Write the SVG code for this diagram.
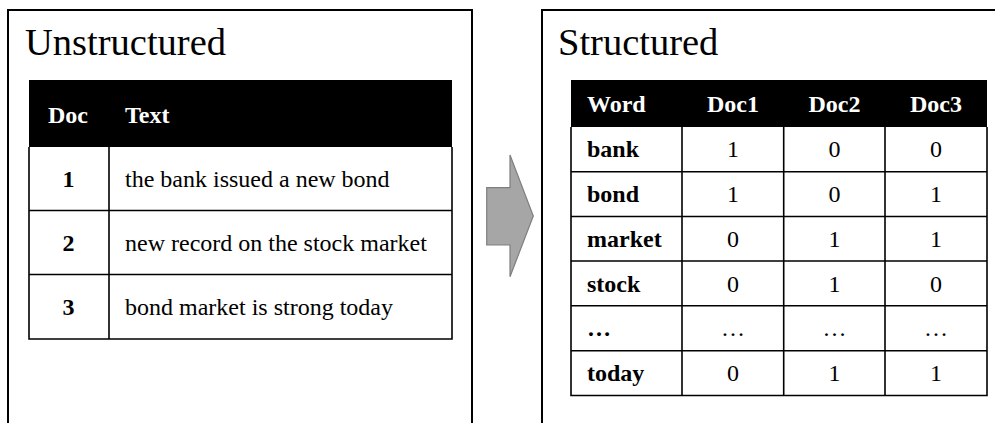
<svg xmlns="http://www.w3.org/2000/svg" width="995" height="423" viewBox="0 0 995 423">
<style>
.panel{fill:none;stroke:#000;stroke-width:2}
.title{font-family:"Liberation Serif",serif;font-size:38.5px;fill:#000}
.hd{fill:#000}
.grid{fill:none;stroke:#000;stroke-width:1.6}
.ht{font-family:"Liberation Serif",serif;font-size:24px;font-weight:bold;fill:#fff}
.b{font-family:"Liberation Serif",serif;font-size:24px;font-weight:bold;fill:#000}
.r{font-family:"Liberation Serif",serif;font-size:24px;fill:#000}
.c{text-anchor:middle}
.arrow{fill:#a6a6a6;stroke:#7f7f7f;stroke-width:1.2}
</style>
<g id="unstructured">
<path class="panel" d="M8,423 V10 H472 V423"/>
<text class="title" x="25" y="55">Unstructured</text>
<rect class="hd" x="29" y="80" width="423" height="67"/>
<text class="ht" x="48" y="123">Doc</text>
<text class="ht" x="125" y="123">Text</text>
<path class="grid" d="M29,147 V339 H452 V147 M29,210.5 H452 M29,274.5 H452 M109,147 V339"/>
<text class="b c" x="68.5" y="187">1</text>
<text class="r" x="125" y="187">the bank issued a new bond</text>
<text class="b c" x="68.5" y="251">2</text>
<text class="r" x="125" y="251">new record on the stock market</text>
<text class="b c" x="68.5" y="315">3</text>
<text class="r" x="125" y="315">bond market is strong today</text>
</g>
<g id="connectors">
<polygon class="arrow" points="486.7,187.7 510,187.7 510,155 533.3,216 510,276.7 510,245 486.7,245"/>
</g>
<g id="structured">
<path class="panel" d="M542,423 V10 H995"/>
<text class="title" x="558" y="55">Structured</text>
<rect class="hd" x="571" y="80" width="416" height="47"/>
<text class="ht" x="587" y="112">Word</text>
<text class="ht c" x="733" y="112">Doc1</text>
<text class="ht c" x="834.5" y="112">Doc2</text>
<text class="ht c" x="936" y="112">Doc3</text>
<path class="grid" d="M571,127 V395.5 H987 V127 M571,171.7 H987 M571,216.5 H987 M571,261 H987 M571,305.7 H987 M571,350.7 H987 M682,127 V395.5 M783.7,127 V395.5 M885,127 V395.5"/>
<text class="b" x="587" y="157">bank</text>
<text class="r c" x="733" y="157">1</text>
<text class="r c" x="834.5" y="157">0</text>
<text class="r c" x="936" y="157">0</text>
<text class="b" x="587" y="202">bond</text>
<text class="r c" x="733" y="202">1</text>
<text class="r c" x="834.5" y="202">0</text>
<text class="r c" x="936" y="202">1</text>
<text class="b" x="587" y="247">market</text>
<text class="r c" x="733" y="247">0</text>
<text class="r c" x="834.5" y="247">1</text>
<text class="r c" x="936" y="247">1</text>
<text class="b" x="587" y="291.5">stock</text>
<text class="r c" x="733" y="291.5">0</text>
<text class="r c" x="834.5" y="291.5">1</text>
<text class="r c" x="936" y="291.5">0</text>
<text class="b" x="587" y="336">…</text>
<text class="r c" x="733" y="336">…</text>
<text class="r c" x="834.5" y="336">…</text>
<text class="r c" x="936" y="336">…</text>
<text class="b" x="587" y="381">today</text>
<text class="r c" x="733" y="381">0</text>
<text class="r c" x="834.5" y="381">1</text>
<text class="r c" x="936" y="381">1</text>
</g>
</svg>
